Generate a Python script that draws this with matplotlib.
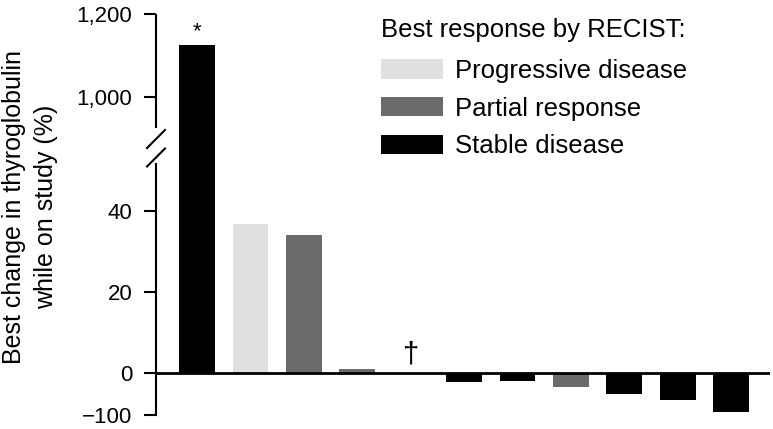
import numpy as np
import matplotlib
matplotlib.use("Agg")
import matplotlib.pyplot as plt
from matplotlib.patches import Patch

plt.rcParams['font.family'] = ['Liberation Sans', 'DejaVu Sans']

# %% data
best_change = [1125, 36.6, 33.9, 1.1, 0, -21, -20, -34, -50, -64, -94]
response = ['SD', 'PD', 'PR', 'PR', 'NE', 'SD', 'SD', 'PR', 'SD', 'SD', 'SD']
ytick_vals = [-100, 0, 20, 40, 1000, 1200]
ytick_labels = ['\u2212100', '0', '20', '40', '1,000', '1,200']
legend_labels = ['Progressive disease', 'Partial response', 'Stable disease']

colores = {'PD': '#e0e0e0', 'PR': '#6b6b6b', 'SD': '#000000', 'NE': 'none'}

# %% escala partida: negativo comprimido, 0-55 lineal, salto hasta 880
K_NEG = 0.1035
K_UP = 0.1018
B1, B2 = 55.0, 880.0
GAP = 1e-3
T1 = B1
T2 = B1 + (B2 - B1) * GAP


def fwd(y):
    y = np.asarray(y, dtype=float)
    return np.where(y < 0, y * K_NEG,
           np.where(y <= B1, y,
           np.where(y <= B2, B1 + (y - B1) * GAP, T2 + (y - B2) * K_UP)))


def inv(t):
    t = np.asarray(t, dtype=float)
    return np.where(t < 0, t / K_NEG,
           np.where(t <= T1, t,
           np.where(t <= T2, B1 + (t - T1) / GAP, B2 + (t - T2) / K_UP)))


# %%
W, H = 773, 429
fig = plt.figure(figsize=(W / 100, H / 100), dpi=100)
ax = fig.add_axes([156 / W, 1 - 415 / H, (770 - 156) / W, (415 - 14) / H])
ax.set_yscale('function', functions=(fwd, inv))

x = np.arange(len(best_change))
ax.bar(x, best_change, width=0.67, color=[colores[r] for r in response], zorder=2)
ax.axhline(0, color='black', lw=2, zorder=3)

ax.set_xlim(-0.77, 10.73)
ax.set_ylim(-100, 1200)
ax.set_xticks([])
ax.set_yticks(ytick_vals)
ax.set_yticklabels(ytick_labels)
ax.tick_params(axis='y', direction='out', length=9, width=1.5, pad=8, labelsize=16)

for s in ['top', 'right', 'bottom']:
    ax.spines[s].set_visible(False)
ax.spines['left'].set_linewidth(1.5)
ax.spines['left'].set_bounds(-100, 51.5)
ax.plot([0, 0], [924, 1200], color='black', lw=1.5, transform=ax.get_yaxis_transform(),
        clip_on=False, solid_capstyle='butt')

# marcas de corte
h_ax = 415 - 14
for yc in [139, 157.5]:
    yf = (415 - yc) / h_ax
    ax.plot([-9 / 614, 9 / 614], [yf - 9 / h_ax, yf + 9 / h_ax], color='black', lw=1.5,
            transform=ax.transAxes, clip_on=False)

ax.annotate('*', (x[0], best_change[0]), xytext=(0, 2), textcoords='offset points',
            ha='center', va='bottom', fontsize=16)
ax.annotate('\u2020', (x[4], 0), xytext=(0, 3), textcoords='offset points',
            ha='center', va='bottom', fontsize=21)

ax.set_ylabel('Best change in thyroglobulin\nwhile on study (%)', fontsize=18, linespacing=1.4)
ax.yaxis.set_label_coords(-98 / 614, 0.519)

# leyenda
fig.text(381 / W, 1 - 30 / H, 'Best response by RECIST:', fontsize=18.5, ha='left', va='center')
handles = [Patch(facecolor=colores[k], edgecolor='none') for k in ['PD', 'PR', 'SD']]
leg = fig.legend(handles, legend_labels, loc='upper left',
                 bbox_to_anchor=(381 / W, 1 - 59 / H), frameon=False, fontsize=18.5,
                 borderpad=0, borderaxespad=0,
                 handlelength=2.4, handleheight=0.78, labelspacing=0.53, handletextpad=0.47)

fig.savefig('out.png', dpi=100)
